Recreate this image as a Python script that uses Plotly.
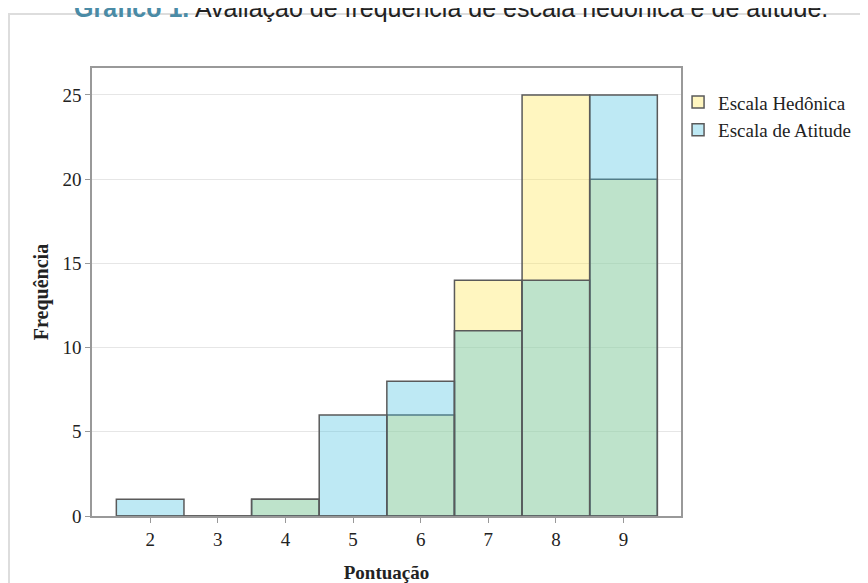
import plotly.graph_objects as go

# Data
scores = [2, 3, 4, 5, 6, 7, 8, 9]
hedonica = [0, 0, 1, 0, 6, 14, 25, 20]
atitude = [1, 0, 1, 6, 8, 11, 14, 25]
series_names = ["Escala Hedônica", "Escala de Atitude"]
title_bold = "Gráfico 1."
title_rest = " Avaliação de frequência de escala hedônica e de atitude."
x_title = "Pontuação"
y_title = "Frequência"
y_ticks = [0, 5, 10, 15, 20, 25]

SERIF = "Liberation Serif, Times New Roman, serif"
EDGE = "#5a5a5a"

fig = go.Figure()
fig.add_trace(go.Bar(
    x=scores, y=hedonica, name=series_names[0], width=1,
    marker=dict(color="rgba(255,229,75,0.35)", line=dict(color=EDGE, width=1.5)),
))
fig.add_trace(go.Bar(
    x=scores, y=atitude, name=series_names[1], width=1,
    marker=dict(color="rgba(69,192,224,0.35)", line=dict(color=EDGE, width=1.5)),
))

fig.update_layout(
    width=860, height=575,
    barmode="overlay",
    plot_bgcolor="white", paper_bgcolor="white",
    margin=dict(l=84, r=187, t=60, b=67),
    legend=dict(
        x=0.995, xanchor="left", y=0.966, yanchor="top",
        font=dict(family=SERIF, size=19, color="#222222"),
        itemwidth=30, tracegroupgap=0, bgcolor="rgba(0,0,0,0)",
    ),
    showlegend=True,
    xaxis=dict(
        range=[1.14, 9.85], tickvals=scores, ticktext=[str(s) for s in scores],
        showgrid=False, zeroline=False,
        showline=True, linecolor="#999999", linewidth=1.5, mirror=True,
        ticks="outside", ticklen=5, tickcolor="#999999",
        tickfont=dict(family=SERIF, size=19, color="#222222"),
        title=dict(text=f"<b>{x_title}</b>", font=dict(family=SERIF, size=19, color="#222222"), standoff=18),
        automargin=False,
    ),
    yaxis=dict(
        range=[0, 26.6], tickvals=y_ticks,
        showgrid=True, gridcolor="#e6e6e6", gridwidth=1, zeroline=False,
        showline=True, linecolor="#999999", linewidth=1.5, mirror=True,
        ticks="outside", ticklen=5, tickcolor="#999999",
        tickfont=dict(family=SERIF, size=19, color="#222222"),
        title=dict(text=f"<b>{y_title}</b>", font=dict(family=SERIF, size=20, color="#222222"), standoff=8),
        automargin=False,
    ),
    annotations=[dict(
        text=f"<b><span style='color:#4a8ba6'>{title_bold}</span></b>{title_rest}",
        font=dict(family="Liberation Sans, Arial, sans-serif", size=25, color="#222222"),
        xref="paper", yref="paper", x=0.609, y=1.135,
        xanchor="center", yanchor="middle", showarrow=False,
    )],
    shapes=[dict(
        type="rect", xref="paper", yref="paper",
        x0=-0.1409, x1=1.35, y0=-0.2, y1=1.1205,
        line=dict(color="#dddddd", width=2), fillcolor="rgba(0,0,0,0)", layer="below",
    )],
)

fig.write_html("out.html")
